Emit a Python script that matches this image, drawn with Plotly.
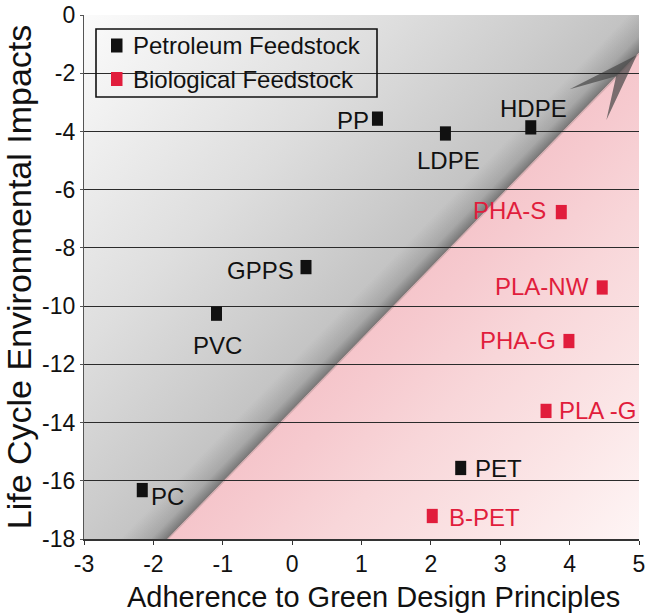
import base64
import plotly.graph_objects as go

# ---------------- data ----------------
petro_names = ["PP", "LDPE", "HDPE", "GPPS", "PVC", "PC", "PET"]
petro_x = [1.23, 2.21, 3.44, 0.20, -1.09, -2.16, 2.43]
petro_y = [-3.56, -4.07, -3.86, -8.66, -10.26, -16.32, -15.56]

bio_names = ["PHA-S", "PLA-NW", "PHA-G", "PLA -G", "B-PET"]
bio_x = [3.88, 4.47, 3.99, 3.66, 2.02]
bio_y = [-6.77, -9.36, -11.20, -13.60, -17.21]

series_names = ["Petroleum Feedstock", "Biological Feedstock"]

x_ticks = [-3, -2, -1, 0, 1, 2, 3, 4, 5]
y_ticks = [-18, -16, -14, -12, -10, -8, -6, -4, -2, 0]

x_title = "Adherence to Green Design Principles"
y_title = "Life Cycle Environmental Impacts"

# ---------------- styling ----------------
PETRO_COLOR = "#111111"
BIO_COLOR = "#e11d3c"
FONT = "Liberation Sans, Arial, sans-serif"
LABEL_SIZE = 24

# label placement: (xanchor, xshift px, yshift px)
label_place = {
    "PP": ("right", -6, -1.5),
    "LDPE": ("center", 3, -27),
    "HDPE": ("center", 3, 19),
    "GPPS": ("right", -10, -3),
    "PVC": ("center", 1, -32),
    "PC": ("left", 7, -6.5),
    "PET": ("left", 12, -0.5),
    "PHA-S": ("right", -13, 1.5),
    "PLA-NW": ("right", -11, 1),
    "PHA-G": ("right", -11, 1),
    "PLA -G": ("left", 11, 0),
    "B-PET": ("left", 15, -1),
}

FIG_W, FIG_H = 650, 613
M_L, M_R, M_T, M_B = 84, 11, 15, 74
PW = FIG_W - M_L - M_R
PH = FIG_H - M_T - M_B
X_RANGE = (-3, 5)
Y_RANGE = (-18, 0)

# background decoration in axis units: dividing edge and arrow head
DIVIDER = [(-1.80, -18.0), (5.0, -1.30)]
ARROW_HEAD = [(4.97, -1.37), (4.00, -2.55), (4.67, -2.10), (4.53, -3.61)]

# legend box, in figure pixels
LEG_BOX = (96, 29, 377, 97)
LEG_ROWS = [45.5, 79]
LEG_MARK_X = (111, 122.5)
LEG_MARK_H = 14
LEG_TEXT_X = 131

# x-axis title centre, in figure pixels
X_TITLE_POS = (373, 597)


def to_px(x, y):
    px = (x - X_RANGE[0]) / (X_RANGE[1] - X_RANGE[0]) * PW
    py = (Y_RANGE[1] - y) / (Y_RANGE[1] - Y_RANGE[0]) * PH
    return px, py


def paper_x(px):
    return (px - M_L) / PW


def paper_y(py):
    return 1 - (py - M_T) / PH


def pts(seq):
    return " ".join(f"{a:.2f},{b:.2f}" for a, b in seq)


def background_svg():
    p0 = to_px(*DIVIDER[0])
    p1 = to_px(*DIVIDER[1])
    dx, dy = p1[0] - p0[0], p1[1] - p0[1]
    ln = (dx * dx + dy * dy) ** 0.5
    nx, ny = dy / ln, -dx / ln  # normal pointing to the upper-left side
    if nx > 0:
        nx, ny = -nx, -ny
    sh = 34
    gray_poly = [(0, 0), (PW, 0), p1, p0, (0, PH)]
    pink_poly = [p0, p1, (PW, PH)]
    head = [to_px(*p) for p in ARROW_HEAD]
    svg = f"""<svg xmlns="http://www.w3.org/2000/svg" width="{PW}" height="{PH}" viewBox="0 0 {PW} {PH}" preserveAspectRatio="none">
<defs>
 <linearGradient id="gray" gradientUnits="userSpaceOnUse" x1="0" y1="0" x2="{PW}" y2="{PH}">
  <stop offset="0" stop-color="#fbfbfb"/>
  <stop offset="0.3" stop-color="#dedede"/>
  <stop offset="0.46" stop-color="#cbcbcb"/>
  <stop offset="0.6" stop-color="#b8b8b8"/>
 </linearGradient>
 <linearGradient id="pink" gradientUnits="userSpaceOnUse" x1="0" y1="0" x2="{PW}" y2="{PH}">
  <stop offset="0.5" stop-color="#f4c0c6"/>
  <stop offset="0.6" stop-color="#f6cacf"/>
  <stop offset="0.7" stop-color="#f8d6d9"/>
  <stop offset="0.85" stop-color="#fbe5e6"/>
  <stop offset="1" stop-color="#fef5f5"/>
 </linearGradient>
 <linearGradient id="shade" gradientUnits="userSpaceOnUse" x1="{p0[0]:.2f}" y1="{p0[1]:.2f}" x2="{p0[0] + sh * nx:.2f}" y2="{p0[1] + sh * ny:.2f}">
  <stop offset="0" stop-color="#303030" stop-opacity="0.5"/>
  <stop offset="0.35" stop-color="#303030" stop-opacity="0.17"/>
  <stop offset="1" stop-color="#303030" stop-opacity="0"/>
 </linearGradient>
 <filter id="soft" x="-5%" y="-5%" width="110%" height="110%"><feGaussianBlur stdDeviation="0.6"/></filter>
</defs>
<polygon points="{pts(gray_poly)}" fill="url(#gray)"/>
<polygon points="{pts(gray_poly)}" fill="url(#shade)"/>
<polygon points="{pts(pink_poly)}" fill="url(#pink)"/>
<line x1="{p0[0]:.2f}" y1="{p0[1]:.2f}" x2="{p1[0]:.2f}" y2="{p1[1]:.2f}" stroke="#8a7070" stroke-opacity="0.3" stroke-width="2.5" filter="url(#soft)"/>
<polygon points="{pts(head)}" fill="#4a4a4a" fill-opacity="0.72"/>
</svg>"""
    return "data:image/svg+xml;base64," + base64.b64encode(svg.encode()).decode()


fig = go.Figure()

groups = [
    (petro_x, petro_y, petro_names, PETRO_COLOR, series_names[0]),
    (bio_x, bio_y, bio_names, BIO_COLOR, series_names[1]),
]

# data markers (tall rectangular marks)
for xs, ys, names, color, sname in groups:
    fig.add_trace(go.Scatter(
        x=xs, y=ys, mode="markers", name=sname, showlegend=False,
        hoverinfo="text", text=names, cliponaxis=False,
        marker=dict(symbol="line-ns", size=10.2, color=color,
                    line=dict(color=color, width=11)),
    ))

# point labels
annotations = []
for xs, ys, names, color, _ in groups:
    for x, y, n in zip(xs, ys, names):
        anchor, xs_, ys_ = label_place[n]
        annotations.append(dict(
            x=x, y=y, xref="x", yref="y", text=n, showarrow=False,
            xanchor=anchor, yanchor="middle", xshift=xs_, yshift=ys_,
            font=dict(family=FONT, size=LABEL_SIZE, color=color),
        ))

# legend: framed box with a swatch and caption per series
shapes = [dict(
    type="rect", xref="paper", yref="paper",
    x0=paper_x(LEG_BOX[0]), x1=paper_x(LEG_BOX[2]),
    y0=paper_y(LEG_BOX[3]), y1=paper_y(LEG_BOX[1]),
    line=dict(color="#111111", width=1.6), fillcolor="rgba(0,0,0,0)",
    layer="above",
)]
for (_, _, _, color, sname), row in zip(groups, LEG_ROWS):
    shapes.append(dict(
        type="rect", xref="paper", yref="paper",
        x0=paper_x(LEG_MARK_X[0]), x1=paper_x(LEG_MARK_X[1]),
        y0=paper_y(row + LEG_MARK_H / 2), y1=paper_y(row - LEG_MARK_H / 2),
        line=dict(width=0), fillcolor=color, layer="above",
    ))
    annotations.append(dict(
        x=paper_x(LEG_TEXT_X), y=paper_y(row), xref="paper", yref="paper",
        text=sname, showarrow=False, xanchor="left", yanchor="middle",
        font=dict(family=FONT, size=LABEL_SIZE, color="#111111"),
    ))

# x-axis title
annotations.append(dict(
    x=paper_x(X_TITLE_POS[0]), y=paper_y(X_TITLE_POS[1]),
    xref="paper", yref="paper", text=x_title, showarrow=False,
    xanchor="center", yanchor="middle",
    font=dict(family=FONT, size=29, color="#111111"),
))

fig.update_layout(
    width=FIG_W, height=FIG_H,
    margin=dict(l=M_L, r=M_R, t=M_T, b=M_B, pad=0),
    paper_bgcolor="white", plot_bgcolor="white",
    font=dict(family=FONT, size=23, color="#111111"),
    images=[dict(source=background_svg(), xref="x", yref="y",
                 x=X_RANGE[0], y=Y_RANGE[1],
                 sizex=X_RANGE[1] - X_RANGE[0], sizey=Y_RANGE[1] - Y_RANGE[0],
                 xanchor="left", yanchor="top", sizing="stretch",
                 layer="below")],
    annotations=annotations,
    shapes=shapes,
    showlegend=False,
    xaxis=dict(
        range=list(X_RANGE), tickvals=x_ticks,
        ticktext=[str(v) for v in x_ticks], automargin=False,
        showgrid=False, zeroline=False,
        showline=True, linecolor="#333333", linewidth=1.5,
        ticks="outside", ticklen=4, tickcolor="#333333", tickwidth=1.2,
        tickfont=dict(family=FONT, size=23, color="#111111"),
    ),
    yaxis=dict(
        range=list(Y_RANGE), tickvals=y_ticks,
        ticktext=[str(v) for v in y_ticks], automargin=False,
        showgrid=True, gridcolor="#2b2b2b", gridwidth=1.2, zeroline=False,
        showline=True, linecolor="#555555", linewidth=1.3,
        ticks="outside", ticklen=3, tickcolor="#555555", tickwidth=1.2,
        tickfont=dict(family=FONT, size=23, color="#111111"),
        title=dict(text=y_title,
                   font=dict(family=FONT, size=34, color="#111111"),
                   standoff=0),
    ),
)

fig.write_html("out.html")
